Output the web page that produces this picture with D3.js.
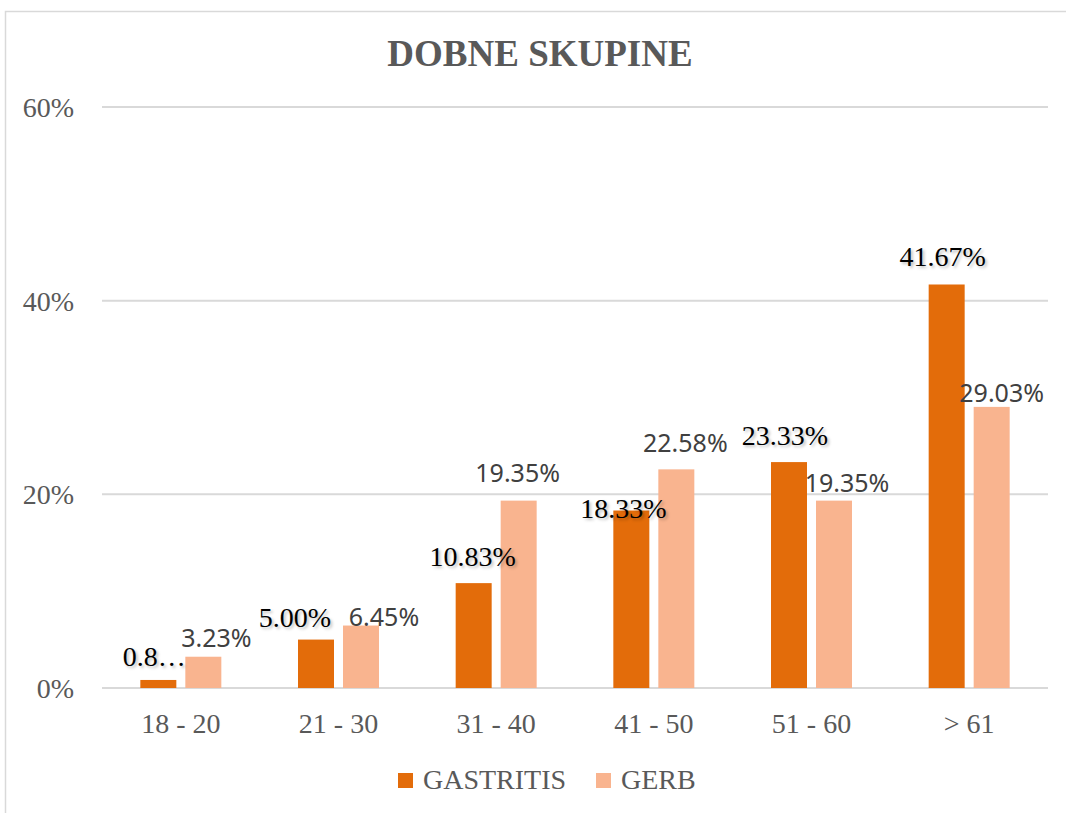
<!DOCTYPE html>
<html>
<head>
<meta charset="utf-8">
<script src="https://d3js.org/d3.v7.min.js"></script>
<style>
  body { margin: 0; background: #fff; }
  .glabel { text-shadow: 2px 2px 3px rgba(0,0,0,0.25); }
</style>
</head>
<body>
<svg width="1066" height="813"></svg>
<script>
// chart data
var categories = ["18 - 20", "21 - 30", "31 - 40", "41 - 50", "51 - 60", "> 61"];
var gastritis = [0.83, 5.00, 10.83, 18.33, 23.33, 41.67];
var gerb = [3.23, 6.45, 19.35, 22.58, 19.35, 29.03];
var gastritisLabels = ["0.8\u2026", "5.00%", "10.83%", "18.33%", "23.33%", "41.67%"];
var gerbLabels = ["3.23%", "6.45%", "19.35%", "22.58%", "19.35%", "29.03%"];
var yTicks = [0, 20, 40, 60];

// label nudges (dx, dy from bar top), as placed in the original
var gastritisNudge = [[-4, -14], [-21, -13], [-1, -17], [-8, 7], [-4, -17], [-4, -18]];
var gerbNudge = [[13, -10], [23, 0], [-1, -19], [9, -17], [13, -9], [10, -5]];

var svg = d3.select("svg"),
    width = +svg.attr("width"),
    height = +svg.attr("height");

var colGas = "#e36c0a", colGerb = "#f9b48f";
var serif = "Liberation Serif, Times New Roman, serif";

// chart border
svg.append("rect")
    .attr("x", 5.5).attr("y", 11.5)
    .attr("width", 1100).attr("height", 900)
    .attr("fill", "none").attr("stroke", "#d9d9d9").attr("stroke-width", 1.5);

var x = d3.scaleBand()
    .domain(categories)
    .range([102, 1048]);

var y = d3.scaleLinear()
    .domain([0, 60])
    .range([688, 107]);

var barW = 36, gap = 9;
var inner = (x.bandwidth() - (2 * barW + gap)) / 2;

// gridlines
svg.append("g").selectAll("line")
    .data(yTicks)
    .enter().append("line")
    .attr("x1", 102).attr("x2", 1048)
    .attr("y1", d => y(d)).attr("y2", d => y(d))
    .attr("stroke", "#d9d9d9").attr("stroke-width", 2);

// y tick labels
svg.append("g").selectAll("text")
    .data(yTicks)
    .enter().append("text")
    .attr("x", 74).attr("y", d => y(d) + 10)
    .attr("text-anchor", "end")
    .attr("font-family", serif)
    .attr("font-size", 28)
    .attr("fill", "#595959")
    .text(d => d + "%");

// x labels
svg.append("g").selectAll("text")
    .data(categories)
    .enter().append("text")
    .attr("x", d => x(d) + x.bandwidth() / 2)
    .attr("y", 733)
    .attr("text-anchor", "middle")
    .attr("font-family", serif)
    .attr("font-size", 28)
    .attr("fill", "#595959")
    .text(d => d);

// bars
svg.append("g").selectAll("rect")
    .data(gastritis)
    .enter().append("rect")
    .attr("x", (d, i) => x(categories[i]) + inner)
    .attr("y", d => y(d))
    .attr("width", barW)
    .attr("height", d => y(0) - y(d))
    .attr("fill", colGas);

svg.append("g").selectAll("rect")
    .data(gerb)
    .enter().append("rect")
    .attr("x", (d, i) => x(categories[i]) + inner + barW + gap)
    .attr("y", d => y(d))
    .attr("width", barW)
    .attr("height", d => y(0) - y(d))
    .attr("fill", colGerb);

// data labels
svg.append("g").selectAll("text")
    .data(gastritis)
    .enter().append("text")
    .attr("class", "glabel")
    .attr("x", (d, i) => x(categories[i]) + inner + barW / 2 + gastritisNudge[i][0])
    .attr("y", (d, i) => y(d) + gastritisNudge[i][1])
    .attr("text-anchor", "middle")
    .attr("font-family", serif)
    .attr("font-size", 28)
    .attr("fill", "#000")
    .text((d, i) => gastritisLabels[i]);

svg.append("g").selectAll("text")
    .data(gerb)
    .enter().append("text")
    .attr("x", (d, i) => x(categories[i]) + inner + barW * 1.5 + gap + gerbNudge[i][0])
    .attr("y", (d, i) => y(d) + gerbNudge[i][1])
    .attr("text-anchor", "middle")
    .attr("font-family", "Noto Sans, sans-serif")
    .attr("font-size", 25)
    .attr("fill", "#404040")
    .text((d, i) => gerbLabels[i]);

// title
svg.append("text")
    .attr("x", 540).attr("y", 66)
    .attr("text-anchor", "middle")
    .attr("font-family", serif)
    .attr("font-weight", "bold")
    .attr("font-size", 37)
    .attr("fill", "#595959")
    .text("DOBNE SKUPINE");

// legend
var legend = [{name: "GASTRITIS", color: colGas, x: 398}, {name: "GERB", color: colGerb, x: 596}];
var lg = svg.append("g").selectAll("g")
    .data(legend)
    .enter().append("g");
lg.append("rect")
    .attr("x", d => d.x).attr("y", 773)
    .attr("width", 15).attr("height", 15)
    .attr("fill", d => d.color);
lg.append("text")
    .attr("x", d => d.x + 25).attr("y", 789)
    .attr("font-family", serif)
    .attr("font-size", 28)
    .attr("fill", "#595959")
    .text(d => d.name);
</script>
</body>
</html>
